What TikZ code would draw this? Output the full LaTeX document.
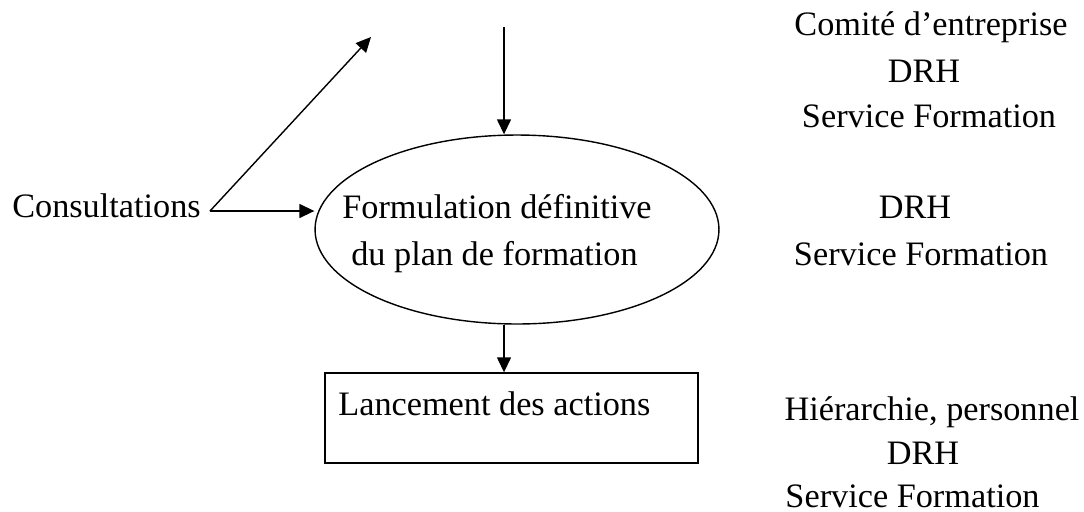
\documentclass[tikz,border=0pt]{standalone}
\usepackage{fontspec}
\setmainfont{Liberation Serif}
\usetikzlibrary{arrows.meta}
\usetikzlibrary{shapes.geometric}

\begin{document}
\begin{tikzpicture}[
  x=0.02cm, y=-0.02cm,
  every node/.style={font=\fontsize{19.5}{26.6}\selectfont, inner sep=0pt},
  flow/.style={-{Triangle[length=0.3cm,width=0.28cm]}, line width=0.8pt},
  actor/.style={anchor=base},
  ]

\useasboundingbox (0,0) rectangle (1084,511);

\node [draw, ellipse, line width=0.8pt, minimum width=8.08cm, minimum height=3.78cm] (ell) at (517,229.5) {};
\node [actor] (plan1) at (497,218) {Formulation définitive};
\node [actor] (plan2) at (494.5,265) {du plan de formation};

\node [draw, line width=0.8pt, minimum width=7.46cm, minimum height=1.8cm] (box) at (511.5,418) {};
\node [anchor=base west] (launch) at (338,415) {Lancement des actions};

\node [actor] (cons) at (106.5,217) {Consultations};
\coordinate (fork) at (210,211);
\coordinate (up) at (371,37);
\coordinate (src) at (504,27);

\draw [flow] (fork) -- (up);
\draw [flow] (fork) -- (fork -| ell.west);
\draw [flow] (src) -- (src |- ell.north);
\draw [flow] (src |- ell.south) -- (src |- box.north);

% acteurs
\node [actor] (ce) at (931,35) {Comité d’entreprise};
\node [actor] (drh1) at (924,82) {DRH};
\node [actor] (sf1) at (929,127) {Service Formation};
\node [actor] (drh2) at (915,218) {DRH};
\node [actor] (sf2) at (921,265) {Service Formation};
\node [actor] (hp) at (932,420) {Hiérarchie, personnel};
\node [actor] (drh3) at (923,464) {DRH};
\node [actor] (sf3) at (912.5,507) {Service Formation};
\end{tikzpicture}
\end{document}
